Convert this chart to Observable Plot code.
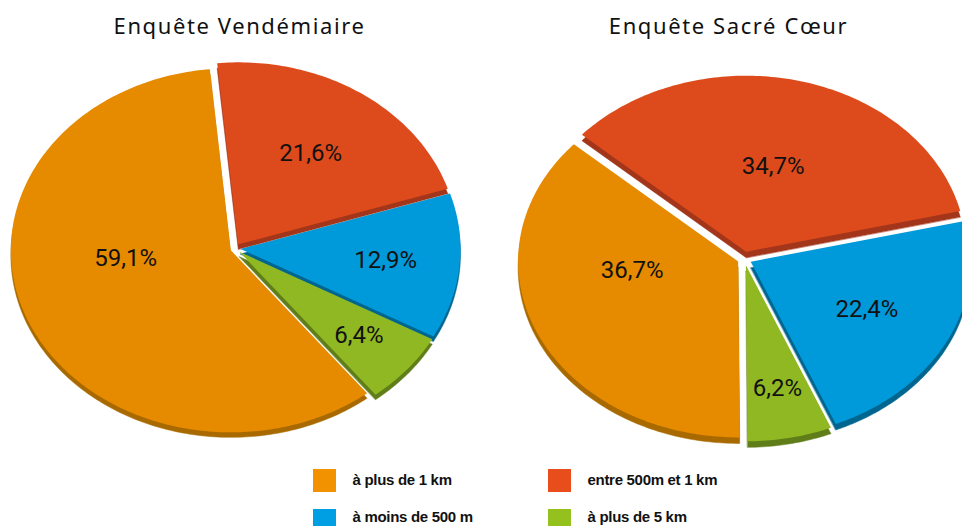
<!DOCTYPE html>
<html>
<head>
<meta charset="utf-8">
<script src="https://cdn.jsdelivr.net/npm/d3@7"></script>
<script src="https://cdn.jsdelivr.net/npm/@observablehq/plot@0.6"></script>
<style>
  html, body { margin: 0; padding: 0; background: #fff; }
  #chart svg { display: block; }
</style>
</head>
<body>
<div id="chart"></div>
<script>
// ---------- data ----------
const categories = ["à plus de 1 km", "entre 500m et 1 km", "à moins de 500 m", "à plus de 5 km"];
const surveys = ["Enquête Vendémiaire", "Enquête Sacré Cœur"];
const vendemiaire = [59.1, 21.6, 12.9, 6.4];
const sacreCoeur = [36.7, 34.7, 22.4, 6.2];

// ---------- styles / layout ----------
const topColors  = ["#E68A00", "#DD4B1C", "#0099DA", "#8FB823"];
const sideColors = ["#A86A00", "#A3361A", "#00668F", "#5F7D18"];
const legendColors = ["#F39200", "#E84E1B", "#009FE3", "#95C11F"];
const drawOrder = [1, 2, 3, 0]; // clockwise from start angle
const pies = [
  {values: vendemiaire, cx: 235, cy: 248, rx: 220, ry: 182, start: -5.5, explode: 5, depth: 5, titleX: 239},
  {values: sacreCoeur,  cx: 744, cy: 258, rx: 220, ry: 176, start: -48.3, explode: 7, depth: 6, titleX: 728}
];

const fmt = d3.formatLocale({decimal: ",", thousands: " ", grouping: [3], currency: ["", "€"]}).format(".1f");
const rad = Math.PI / 180;

const topRows = [], sideRows = [], labelRows = [], titleRows = [];
pies.forEach((p, pi) => {
  const total = d3.sum(p.values);
  let a0 = p.start;
  titleRows.push({x: p.titleX, y: 26, text: surveys[pi]});
  for (const ci of drawOrder) {
    const share = p.values[ci] / total;
    const span = share * 360;
    const a1 = a0 + span;
    const mid = (a0 + a1) / 2;
    const ox = p.cx + p.explode * Math.sin(mid * rad);
    const oy = p.cy - p.explode * Math.cos(mid * rad);
    const key = pi + "-" + ci;
    const pts = [[ox, oy]];
    const n = Math.max(2, Math.ceil(span));
    for (let k = 0; k <= n; k++) {
      const a = (a0 + span * k / n) * rad;
      pts.push([ox + p.rx * Math.sin(a), oy - p.ry * Math.cos(a)]);
    }
    pts.forEach(([x, y], i) => {
      topRows.push({key, x, y, fill: topColors[ci], i});
      sideRows.push({key, x, y: y + p.depth, fill: sideColors[ci], i});
    });
    // label at mid-angle; large slices in the lower-left are pulled toward the horizontal
    const lowerLeft = mid > 180 && mid < 270;
    const la = share > 1 / 3 && lowerLeft ? (mid + 270) / 2 + 6 : mid;
    const f = Math.max(0.48, 0.76 - 0.75 * share);
    labelRows.push({
      x: ox + f * p.rx * Math.sin(la * rad),
      y: oy - f * p.ry * Math.cos(la * rad),
      text: fmt(p.values[ci]) + "%"
    });
    a0 = a1;
  }
});

// legend layout: 2 columns x 2 rows
const legendRows = categories.map((c, i) => {
  const col = i % 2, row = Math.floor(i / 2);
  const sx = col === 0 ? 313 : 548;
  const sy = row === 0 ? 469 : 509;
  return {x1: sx, x2: sx + 23, y1: sy, y2: sy + 23, tx: sx + 39, ty: row === 0 ? sy + 11 : sy + 8, text: c, fill: legendColors[i]};
});

const chart = Plot.plot({
  width: 962,
  height: 526,
  margin: 0,
  x: {domain: [0, 962], range: [0, 962], axis: null},
  y: {domain: [0, 526], range: [0, 526], axis: null},
  color: {type: "identity"},
  marks: [
    Plot.line(sideRows, {x: "x", y: "y", z: "key", fill: "fill", stroke: "fill", strokeWidth: 0.5, curve: "linear-closed"}),
    Plot.line(topRows, {x: "x", y: "y", z: "key", fill: "fill", curve: "linear-closed"}),
    Plot.text(labelRows, {x: "x", y: "y", text: "text", fontSize: 24, fill: "#111", fontFamily: "Roboto, 'Noto Sans', sans-serif"}),
    Plot.text(titleRows, {x: "x", y: "y", text: "text", fontSize: 22, fill: "#111", fontFamily: "'Noto Sans', 'Open Sans', sans-serif"}),
    Plot.rect(legendRows, {x1: "x1", x2: "x2", y1: "y1", y2: "y2", fill: "fill"}),
    Plot.text(legendRows, {x: "tx", y: "ty", text: "text", textAnchor: "start", fontSize: 15, fontWeight: "bold", fill: "#111", fontFamily: "'Liberation Sans Narrow', 'Liberation Sans', sans-serif"})
  ]
});
d3.select(chart).selectAll('g[font-family*="Open Sans"]').style("letter-spacing", "1.6px");
d3.select(chart).selectAll('g[font-family*="Liberation"]').style("letter-spacing", "-0.3px");
document.getElementById("chart").appendChild(chart);
</script>
</body>
</html>
